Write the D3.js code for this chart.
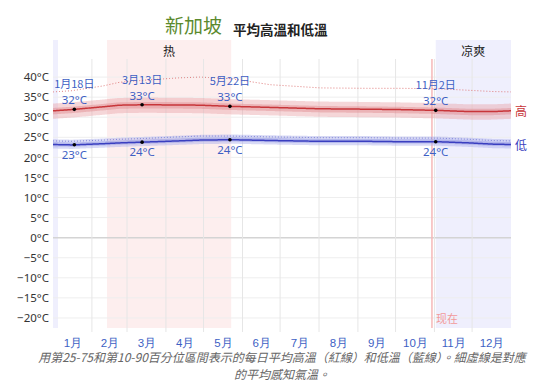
<!DOCTYPE html>
<html><head><meta charset="utf-8">
<script src="https://cdn.jsdelivr.net/npm/d3@7"></script>
<style>
body{margin:0;background:#fff;}
svg{display:block;font-family:"Noto Sans CJK TC","Noto Sans",sans-serif;}
</style></head>
<body><svg id="c" width="539" height="392"></svg>
<script>
// ---- data ----
const months = ["1月","2月","3月","4月","5月","6月","7月","8月","9月","10月","11月","12月"];
const monthStarts = [0,31,59,90,120,151,181,212,243,273,304,334,365];
const yTicks = [-20,-15,-10,-5,0,5,10,15,20,25,30,35,40];
const days =      [0,   15,   40,   53,   72,   100,  117,  142,  173,  213,  250,  276,  306,  332,  350,  365];
const highAvg =   [31.6,31.9, 32.6, 33.0, 33.1, 33.05,33.0, 32.7, 32.45,32.1, 32.0, 31.9, 31.7, 31.4, 31.4, 31.6];
const lowAvg =    [23.2,23.1, 23.4, 23.6, 23.8, 24.1, 24.3, 24.4, 24.2, 24.0, 24.0, 23.9, 23.9, 23.6, 23.3, 23.2];
const highFeels = [36.3,36.6, 37.8, 38.7, 39.2, 39.8, 40.0, 39.6, 38.1, 37.3, 37.2, 37.2, 37.1, 36.7, 36.4, 36.3];
const lowFeels =  [24.1,24.0, 24.3, 24.5, 24.7, 25.1, 25.3, 25.3, 25.1, 24.9, 24.9, 24.8, 24.8, 24.5, 24.2, 24.1];
const highP10off = -2.0, highP25off = -0.9, highP75off = 0.7, highP90off = 1.8;
const lowP10off = -1.0, lowP25off = -0.45, lowP75off = 0.6, lowP90off = 1.3;
const seasons = [{name:"热", start:43, end:142, kind:"hot"},{name:"凉爽", start:305, end:365, kind:"cool"},{name:"", start:0, end:4, kind:"cool"}];
const highMarks = [{day:17, label:"1月18日", value:"32°C"},{day:71, label:"3月13日", value:"33°C"},{day:141, label:"5月22日", value:"33°C"},{day:305, label:"11月2日", value:"32°C"}];
const lowMarks = [{day:17, value:"23°C"},{day:71, value:"24°C"},{day:141, value:"24°C"},{day:305, value:"24°C"}];
const nowDay = 302;

// ---- chart ----
const svg = d3.select("#c");
const x = d3.scaleLinear().domain([0,365]).range([53,511]);
const y = d3.scaleLinear().domain([-22.5,44.5]).range([328,59]);
const interp = arr => d3.scaleLinear().domain(days).range(arr);
const fH = interp(highAvg), fL = interp(lowAvg), fHF = interp(highFeels), fLF = interp(lowFeels);
const grid = d3.range(0,366,1);

// season bands
svg.append("g").selectAll("rect").data(seasons).join("rect")
  .attr("x", d=>x(d.start)).attr("width", d=>x(d.end)-x(d.start))
  .attr("y", 40).attr("height", 328-40)
  .attr("fill", d=>d.kind==="hot" ? "#fdeeee" : "#efeffd");
svg.append("g").selectAll("text").data(seasons.filter(d=>d.name)).join("text")
  .attr("x", d=>(x(d.start)+x(d.end))/2).attr("y", 56)
  .attr("text-anchor","middle").attr("font-size",12).attr("fill","#222").text(d=>d.name);

// gridlines
svg.append("g").selectAll("line").data(yTicks).join("line")
  .attr("x1", 53).attr("x2", 511).attr("y1", d=>y(d)).attr("y2", d=>y(d))
  .attr("stroke", d=>d===0 ? "#d4d4d4" : "#eeeeee").attr("stroke-width", d=>d===0?1.5:1);
svg.append("g").selectAll("line").data(monthStarts.slice(1,12)).join("line")
  .attr("x1", d=>x(d)).attr("x2", d=>x(d)).attr("y1", 59).attr("y2", 332)
  .attr("stroke", "#e6e6e6").attr("stroke-width",1);

// now line
svg.append("line").attr("x1", x(nowDay)).attr("x2", x(nowDay)).attr("y1", 59).attr("y2", 328)
  .attr("stroke","#f6b8b8").attr("stroke-width",1.5);
svg.append("text").attr("x", x(nowDay)+4).attr("y", 323).attr("font-size",11).attr("fill","#f29a9a").text("现在");

// bands
function band(f, lo, hi, color, op){
  svg.append("path").datum(grid)
    .attr("d", d3.area().x(d=>x(d)).y0(d=>y(f(d)+lo)).y1(d=>y(f(d)+hi)).curve(d3.curveBasis))
    .attr("fill", color).attr("opacity", op);
}
band(fH, highP10off, highP90off, "#e8a5a8", 0.45);
band(fH, highP25off, highP75off, "#e08a8f", 0.45);
band(fL, lowP10off, lowP90off, "#a9acea", 0.45);
band(fL, lowP25off, lowP75off, "#8f93e0", 0.45);

const line = f => d3.line().x(d=>x(d)).y(d=>y(f(d))).curve(d3.curveBasis);
svg.append("path").datum(grid).attr("d", line(fHF)).attr("fill","none")
  .attr("stroke","#e07a7a").attr("stroke-width",1).attr("stroke-dasharray","1,2");
svg.append("path").datum(grid).attr("d", line(fLF)).attr("fill","none")
  .attr("stroke","#7a7fd8").attr("stroke-width",1).attr("stroke-dasharray","1,2");
svg.append("path").datum(grid).attr("d", line(fH)).attr("fill","none")
  .attr("stroke","#c8363a").attr("stroke-width",1.5);
svg.append("path").datum(grid).attr("d", line(fL)).attr("fill","none")
  .attr("stroke","#3a3fc0").attr("stroke-width",1.5);

// markers & annotations
const blue = "#3d5fc4";
const hm = svg.append("g").selectAll("g").data(highMarks).join("g");
hm.append("circle").attr("cx", d=>x(d.day)).attr("cy", d=>y(fH(d.day))).attr("r",1.8).attr("fill","#000");
hm.append("text").attr("x", d=>x(d.day)).attr("y", d=>y(fH(d.day))-5).attr("text-anchor","middle")
  .attr("font-family","'Noto Sans',sans-serif")
  .attr("font-size",11.5).attr("fill",blue).text(d=>d.value);
hm.append("text").attr("x", d=>x(d.day)).attr("y", d=>y(fH(d.day))-21).attr("text-anchor","middle")
  .attr("font-size",11).attr("fill",blue).text(d=>d.label);
const lm = svg.append("g").selectAll("g").data(lowMarks).join("g");
lm.append("circle").attr("cx", d=>x(d.day)).attr("cy", d=>y(fL(d.day))).attr("r",1.8).attr("fill","#000");
lm.append("text").attr("x", d=>x(d.day)).attr("y", d=>y(fL(d.day))+14).attr("text-anchor","middle")
  .attr("font-family","'Noto Sans',sans-serif")
  .attr("font-size",11.5).attr("fill",blue).text(d=>d.value);

// series labels
svg.append("text").attr("x",515).attr("y", y(fH(365))+5).attr("font-size",12).attr("fill","#c8363a").text("高");
svg.append("text").attr("x",515).attr("y", y(fL(365))+5).attr("font-size",12).attr("fill","#3a3fc0").text("低");

// y axis
const fmt = d3.format("");
const ya = svg.append("g").attr("transform","translate(50,0)")
  .call(d3.axisLeft(y).tickValues(yTicks).tickSize(0).tickFormat(d=>fmt(d)+"°C"));
ya.select(".domain").remove();
ya.selectAll("text").attr("font-size",11.5).attr("fill","#333").attr("font-family","'Noto Sans',sans-serif").attr("x",-1);

// month axis
const mx = d3.scaleOrdinal().domain(months).range(months.map((m,i)=>x((monthStarts[i]+monthStarts[i+1])/2)));
const xa = svg.append("g").attr("transform","translate(0,334)")
  .call(d3.axisBottom(mx).tickSize(0));
xa.select(".domain").remove();
xa.selectAll("text").attr("font-size",11.5).attr("fill",blue).attr("dy","0.85em");

// title
svg.append("text").attr("x",165).attr("y",33).attr("font-size",19).attr("fill","#5b8a2e").text("新加坡");
svg.append("text").attr("x",233).attr("y",35).attr("font-size",13.5).attr("font-weight",600).attr("fill","#222").text("平均高溫和低溫");

// caption
const cap = svg.append("text").attr("text-anchor","middle").attr("font-size",12).attr("font-style","italic").attr("fill","#666");
cap.append("tspan").attr("x",282).attr("y",362).text("用第25-75和第10-90百分位區間表示的每日平均高溫（紅線）和低溫（藍線）。細虛線是對應");
cap.append("tspan").attr("x",282).attr("y",379).text("的平均感知氣溫。");
</script></body></html>
